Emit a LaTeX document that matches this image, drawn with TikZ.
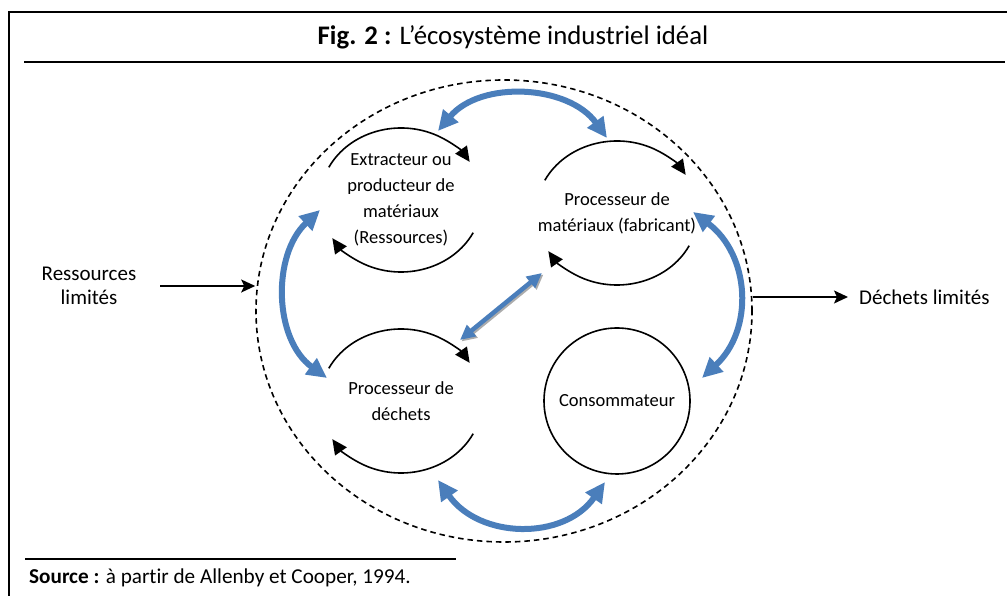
\documentclass[tikz,border=0pt]{standalone}
\usepackage{fontspec}
\setmainfont{Carlito}[Ligatures=NoCommon]
\usetikzlibrary{arrows.meta,shapes.geometric}
\definecolor{arrblue}{RGB}{74,126,187}
\begin{document}
\begin{tikzpicture}[x=1pt,y=1pt,
  cyc/.style={line width=1.6pt,-{Triangle[length=15pt,width=14pt]}},
  cyctxt/.style={align=center,inner sep=0pt,font=\fontsize{18.5}{26}\selectfont},
  sidetxt/.style={align=center,inner sep=0pt,font=\fontsize{21}{24}\selectfont},
  blu/.style={draw=arrblue,line width=6pt,{Triangle[length=20pt,width=19pt]}-{Triangle[length=20pt,width=19pt]}},
  diag/.style={line width=4.5pt,{Triangle[length=15pt,width=14pt]}-{Triangle[length=15pt,width=14pt]}},
  blk/.style={line width=1.6pt,-{Stealth[length=14pt,width=13pt,inset=3pt]}},
  rule/.style={line width=2.2pt}
]
\useasboundingbox (0,0) rectangle (1007,596);
% frame
\draw[line width=1.8pt] (9,0) -- (9,584) -- (1007,584);
\draw[rule] (24,534) -- (1005,534);
\node[inner sep=0pt,font=\fontsize{26.8}{30}\selectfont] (title) at (513,559) {\textbf{Fig. 2 :} L’écosystème industriel idéal};
\draw[rule] (25,37) -- (456,37);
\node[anchor=west,inner sep=0pt,font=\fontsize{21.2}{24}\selectfont] (src) at (29,18) {\textbf{Source :} à partir de Allenby et Cooper, 1994.};

% boundary
\node[ellipse,draw,line width=1.6pt,dash pattern=on 5.5pt off 4pt,minimum width=496pt,minimum height=462pt,inner sep=0pt] (eco) at (504,285) {};

% cycles
\node[cyctxt] (ext) at (401,396) {Extracteur ou\\producteur de\\matériaux\\(Ressources)};
\node[cyctxt] (proc) at (617,383) {Processeur de\\matériaux (fabricant)};
\node[cyctxt] (wst) at (401,195) {Processeur de\\déchets};
\node[circle,draw,line width=1.6pt,minimum size=146pt,inner sep=0pt,font=\fontsize{18.5}{26}\selectfont] (cons) at (617,195) {Consommateur};

\foreach \n in {ext,proc,wst}{
  \draw[cyc] ([shift={(153:81 and 72)}]\n.center) arc[start angle=153,end angle=32,x radius=81,y radius=72];
  \draw[cyc] ([shift={(-27:81 and 72)}]\n.center) arc[start angle=-27,end angle=-148,x radius=81,y radius=72];
}

% blue exchanges
\draw[blu] ([shift={(37,69)}]ext.center) to[out=50,in=126] ([shift={(-10,75)}]proc.center);
\draw[blu] ([shift={(-81,-10)}]ext.center) to[out=223,in=144] ([shift={(-74,23)}]wst.center);
\draw[blu] ([shift={(76,1)}]proc.center) to[out=-37,in=43,looseness=1.1] ([shift={(85,23)}]cons.center);
\draw[blu] ([shift={(37,-79)}]wst.center) to[out=-55,in=-125,looseness=1.1] ([shift={(-12,-81)}]cons.center);
\draw[diag,draw=gray!65,fill=gray!65] ([shift={(60.5,59.5)}]wst.center) -- ([shift={(-73.5,-61.5)}]proc.center);
\draw[diag,draw=arrblue,fill=arrblue] ([shift={(59,61)}]wst.center) -- ([shift={(-75,-60)}]proc.center);

% inputs and outputs
\node[sidetxt] (res) at (89,310) {Ressources\\limités};
\node[sidetxt,anchor=west] (dech) at (859,299) {Déchets limités};
\draw[blk] ([xshift=24pt]res.east) -- (res.east -| eco.west);
\draw[blk] (dech.west -| eco.east) -- ([xshift=-11pt]dech.west);
\end{tikzpicture}
\end{document}
